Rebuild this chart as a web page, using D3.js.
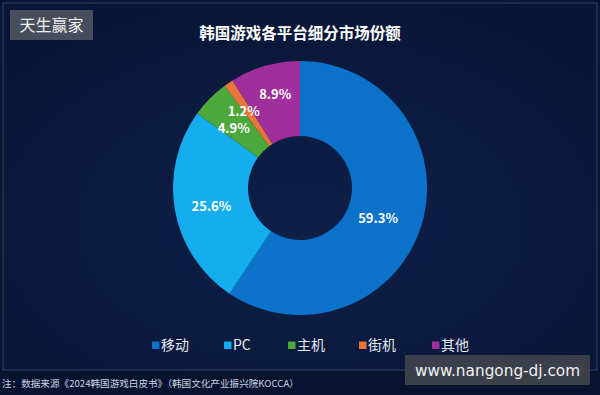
<!DOCTYPE html>
<html><head><meta charset="utf-8">
<script src="https://cdn.jsdelivr.net/npm/d3@7"></script>
<style>html,body{margin:0;padding:0;background:#0a1736;}svg{display:block;}</style>
</head><body>
<svg id="c" width="600" height="395"></svg>
<script>
const categories = ["移动", "PC", "主机", "街机", "其他"];
const values = [59.3, 25.6, 4.9, 1.2, 8.9];
const labels = ["59.3%", "25.6%", "4.9%", "1.2%", "8.9%"];
const colors = ["#0b73c9", "#14adef", "#4ca83a", "#e8763a", "#9f2f9b"];
const title = "韩国游戏各平台细分市场份额";
const note = "注：数据来源《2024韩国游戏白皮书》（韩国文化产业振兴院KOCCA）";

const svg = d3.select("#c");
const defs = svg.append("defs");
const rg = defs.append("radialGradient").attr("id","bg").attr("cx","50%").attr("cy","60%").attr("r","70%");
rg.append("stop").attr("offset","0%").attr("stop-color","#0e2048");
rg.append("stop").attr("offset","100%").attr("stop-color","#081536");
svg.append("rect").attr("width",600).attr("height",395).attr("fill","#08142f");
svg.append("rect").attr("x",3).attr("y",3).attr("width",594).attr("height",367)
  .attr("fill","url(#bg)").attr("stroke","#2b3b62").attr("stroke-width",1.2);

const font = "'Noto Sans CJK SC','Noto Sans',sans-serif";
svg.append("text").attr("x",300).attr("y",39).attr("text-anchor","middle")
  .attr("fill","#ffffff").attr("font-family",font).attr("font-weight","bold").attr("font-size",15.5).text(title);

const cx = 300, cy = 188, ro = 127, ri = 52;
const pie = d3.pie().sort(null).value(d => d)(values);
const arc = d3.arc().innerRadius(ri).outerRadius(ro);
const g = svg.append("g").attr("transform",`translate(${cx},${cy})`);
g.selectAll("path").data(pie).join("path").attr("d",arc).attr("fill",(d,i)=>colors[i]);

const labelR = [92, 90, 92, 100, 97];
const labelAdj = [[-10,4],[0,3],[-1,5],[0,6],[2,0]];
g.selectAll("text.l").data(pie).join("text").attr("class","l")
  .attr("transform",(d,i)=>{
    const a = (d.startAngle + d.endAngle)/2;
    return `translate(${Math.sin(a)*labelR[i]+labelAdj[i][0]},${-Math.cos(a)*labelR[i]+labelAdj[i][1]})`;
  })
  .attr("text-anchor","middle").attr("dy","0.35em")
  .attr("fill","#ffffff").attr("font-family",font).attr("font-weight","bold").attr("font-size",13)
  .text((d,i)=>labels[i]);

const legX = [161, 233, 297, 368, 441];
const lg = svg.append("g");
categories.forEach((c,i)=>{
  lg.append("rect").attr("x",legX[i]-9).attr("y",341.5).attr("width",7.5).attr("height",7.5).attr("fill",colors[i]);
  lg.append("text").attr("x",legX[i]).attr("y",345).attr("dy","0.36em")
    .attr("fill","#e4e9f2").attr("font-family",font).attr("font-size",14).text(c);
});

svg.append("text").attr("x",2).attr("y",387).attr("fill","#c9d1e0").attr("font-family",font)
  .attr("font-size",9.6).text(note);

// watermarks
svg.append("rect").attr("x",10).attr("y",10).attr("width",83).attr("height",30).attr("fill","#4b505e").attr("opacity",0.95);
svg.append("text").attr("x",51.5).attr("y",25).attr("dy","0.36em").attr("text-anchor","middle")
  .attr("fill","#f2f2f2").attr("font-family",font).attr("font-size",16).text("天生赢家");
svg.append("rect").attr("x",405).attr("y",355).attr("width",185).attr("height",30).attr("fill","#3d414c").attr("opacity",0.95);
svg.append("text").attr("x",497.5).attr("y",370).attr("dy","0.36em").attr("text-anchor","middle")
  .attr("fill","#f2f2f2").attr("font-family","'DejaVu Sans',sans-serif").attr("font-size",15.3).text("www.nangong-dj.com");
</script>
</body></html>
